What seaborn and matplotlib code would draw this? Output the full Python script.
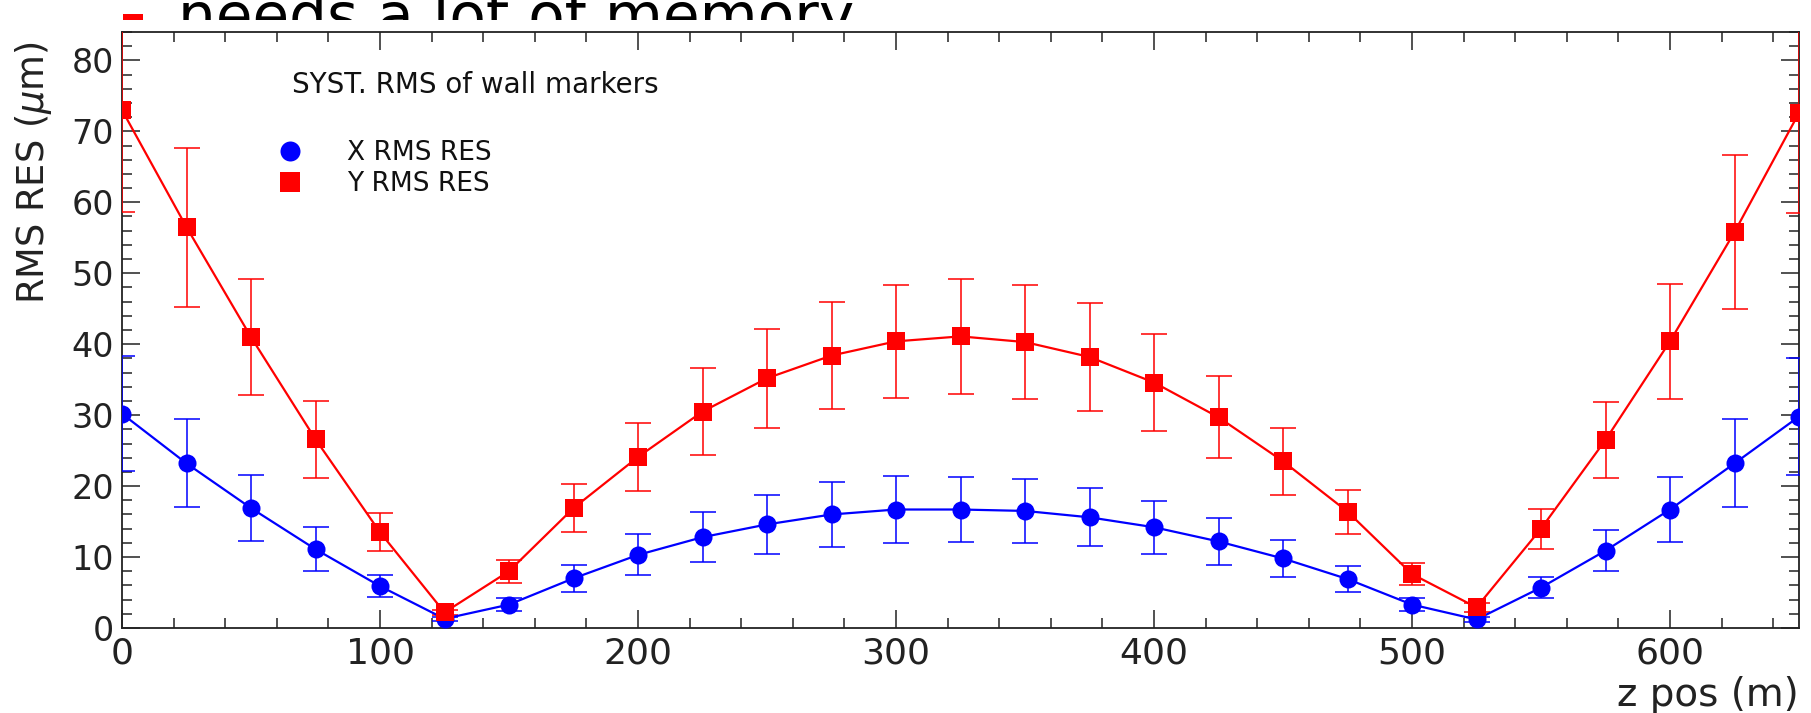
import matplotlib
matplotlib.use("Agg")
import matplotlib.pyplot as plt
from matplotlib.patches import Rectangle
from matplotlib.lines import Line2D
from matplotlib.ticker import MultipleLocator
import seaborn as sns
import pandas as pd

# ---------------- data ----------------
z_pos = [0, 25, 50, 75, 100, 125, 150, 175, 200, 225, 250, 275, 300, 325,
         350, 375, 400, 425, 450, 475, 500, 525, 550, 575, 600, 625, 650]
x_rms = [30.2, 23.2, 16.9, 11.1, 5.9, 1.3, 3.3, 7.0, 10.3, 12.8, 14.6, 16.0,
         16.7, 16.7, 16.5, 15.6, 14.2, 12.2, 9.8, 6.9, 3.3, 1.2, 5.7, 10.9,
         16.7, 23.2, 29.8]
x_err = [8.1, 6.2, 4.7, 3.1, 1.6, 0.3, 0.9, 1.9, 2.9, 3.5, 4.2, 4.6, 4.7,
         4.6, 4.5, 4.1, 3.7, 3.3, 2.6, 1.8, 0.9, 0.3, 1.5, 2.9, 4.6, 6.2, 8.2]
y_rms = [73.0, 56.5, 41.0, 26.6, 13.5, 2.2, 8.0, 16.9, 24.1, 30.5, 35.2, 38.4,
         40.4, 41.1, 40.3, 38.2, 34.6, 29.7, 23.5, 16.4, 7.6, 2.9, 14.0, 26.5,
         40.4, 55.8, 72.6]
y_err = [14.3, 11.2, 8.2, 5.4, 2.7, 0.4, 1.6, 3.4, 4.8, 6.1, 7.0, 7.6, 8.0,
         8.1, 8.0, 7.6, 6.8, 5.8, 4.7, 3.1, 1.5, 0.6, 2.8, 5.3, 8.1, 10.9, 14.1]

series_labels = ["X RMS RES", "Y RMS RES"]
title_text = "SYST. RMS of wall markers"
slide_text = "needs a lot of memory"
x_label = "z pos (m)"
y_label = r"RMS RES ($\mu$m)"

df = pd.DataFrame({"z": z_pos, "x_rms": x_rms, "x_err": x_err,
                   "y_rms": y_rms, "y_err": y_err})

# ---------------- style ----------------
sns.set_theme(style="ticks")
plt.rcParams["font.family"] = ["DejaVu Sans"]
plt.rcParams["mathtext.fontset"] = "dejavusans"

W, H = 1811, 713
fig = plt.figure(figsize=(W / 100, H / 100), dpi=100)
fig.patch.set_facecolor("white")

ax = fig.add_axes([122 / W, 1 - 628 / H, 1677 / W, 596 / H])
ax.set_zorder(3)

BLUE = "#0000ff"
RED = "#ff0000"

# error bars
ax.errorbar(df["z"], df["x_rms"], yerr=df["x_err"], fmt="none", ecolor=BLUE,
            elinewidth=1.1, capsize=9.4, capthick=1.1, zorder=2.6)
ax.errorbar(df["z"], df["y_rms"], yerr=df["y_err"], fmt="none", ecolor=RED,
            elinewidth=1.1, capsize=9.4, capthick=1.1, zorder=2.6)

# lines + markers
sns.lineplot(data=df, x="z", y="x_rms", ax=ax, color=BLUE, marker="o",
             markersize=13, markeredgewidth=0, linewidth=1.6, sort=False,
             errorbar=None, zorder=2.7)
sns.lineplot(data=df, x="z", y="y_rms", ax=ax, color=RED, marker="s",
             markersize=12.5, markeredgewidth=0, linewidth=1.6, sort=False,
             errorbar=None, zorder=2.7)

ax.set_xlim(0, 650)
ax.set_ylim(0, 84)

ax.xaxis.set_major_locator(MultipleLocator(100))
ax.xaxis.set_minor_locator(MultipleLocator(20))
ax.yaxis.set_major_locator(MultipleLocator(10))
ax.yaxis.set_minor_locator(MultipleLocator(2))

for s in ax.spines.values():
    s.set_visible(True)
    s.set_color("#222222")
    s.set_linewidth(1.3)

ax.tick_params(which="both", direction="in", top=True, right=True,
               color="#222222", width=1.1)
ax.tick_params(which="major", length=13)
ax.tick_params(which="minor", length=7)
ax.tick_params(axis="x", which="major", labelsize=26, pad=6, labelcolor="#222222")
ax.tick_params(axis="y", which="major", labelsize=24, pad=6, labelcolor="#222222")

ax.set_xlabel(x_label, fontsize=28, color="#222222", loc="right")
ax.xaxis.set_label_coords(1.0, -0.080)
ax.set_ylabel(y_label, fontsize=26.5, color="#222222", loc="top")
ax.yaxis.set_label_coords(-0.053, 0.985)
ax.yaxis.label.set_verticalalignment("center")

# annotation text
ax.text(0.1014, 0.8977, title_text, transform=ax.transAxes, fontsize=20,
        color="#111111", ha="left", va="baseline")

# legend (marker only)
handles = [Line2D([], [], ls="none", marker="o", color=BLUE, markersize=14.4,
                  markeredgewidth=0),
           Line2D([], [], ls="none", marker="s", color=RED, markersize=14.4,
                  markeredgewidth=0)]
leg = ax.legend(handles, series_labels, loc="upper left",
                bbox_to_anchor=(0.0924, 0.819), frameon=False, fontsize=19,
                handlelength=1.0, handletextpad=1.67, labelspacing=0.19,
                borderpad=0.0, borderaxespad=0.0)
for t in leg.get_texts():
    t.set_color("#111111")

# slide fragment above the chart (partially hidden behind the chart image)
fig.text(178 / W, 1 - 36 / H, slide_text, fontsize=43, color="black",
         ha="left", va="baseline", zorder=1)
fig.add_artist(Rectangle((123 / W, 1 - 34 / H), 20 / W, 20 / H,
                         transform=fig.transFigure, facecolor=RED,
                         edgecolor="none", zorder=1))
fig.add_artist(Rectangle((0, 0), 1, 1 - 20 / H, transform=fig.transFigure,
                         facecolor="white", edgecolor="none", zorder=2))

fig.savefig("out.png", dpi=100)
